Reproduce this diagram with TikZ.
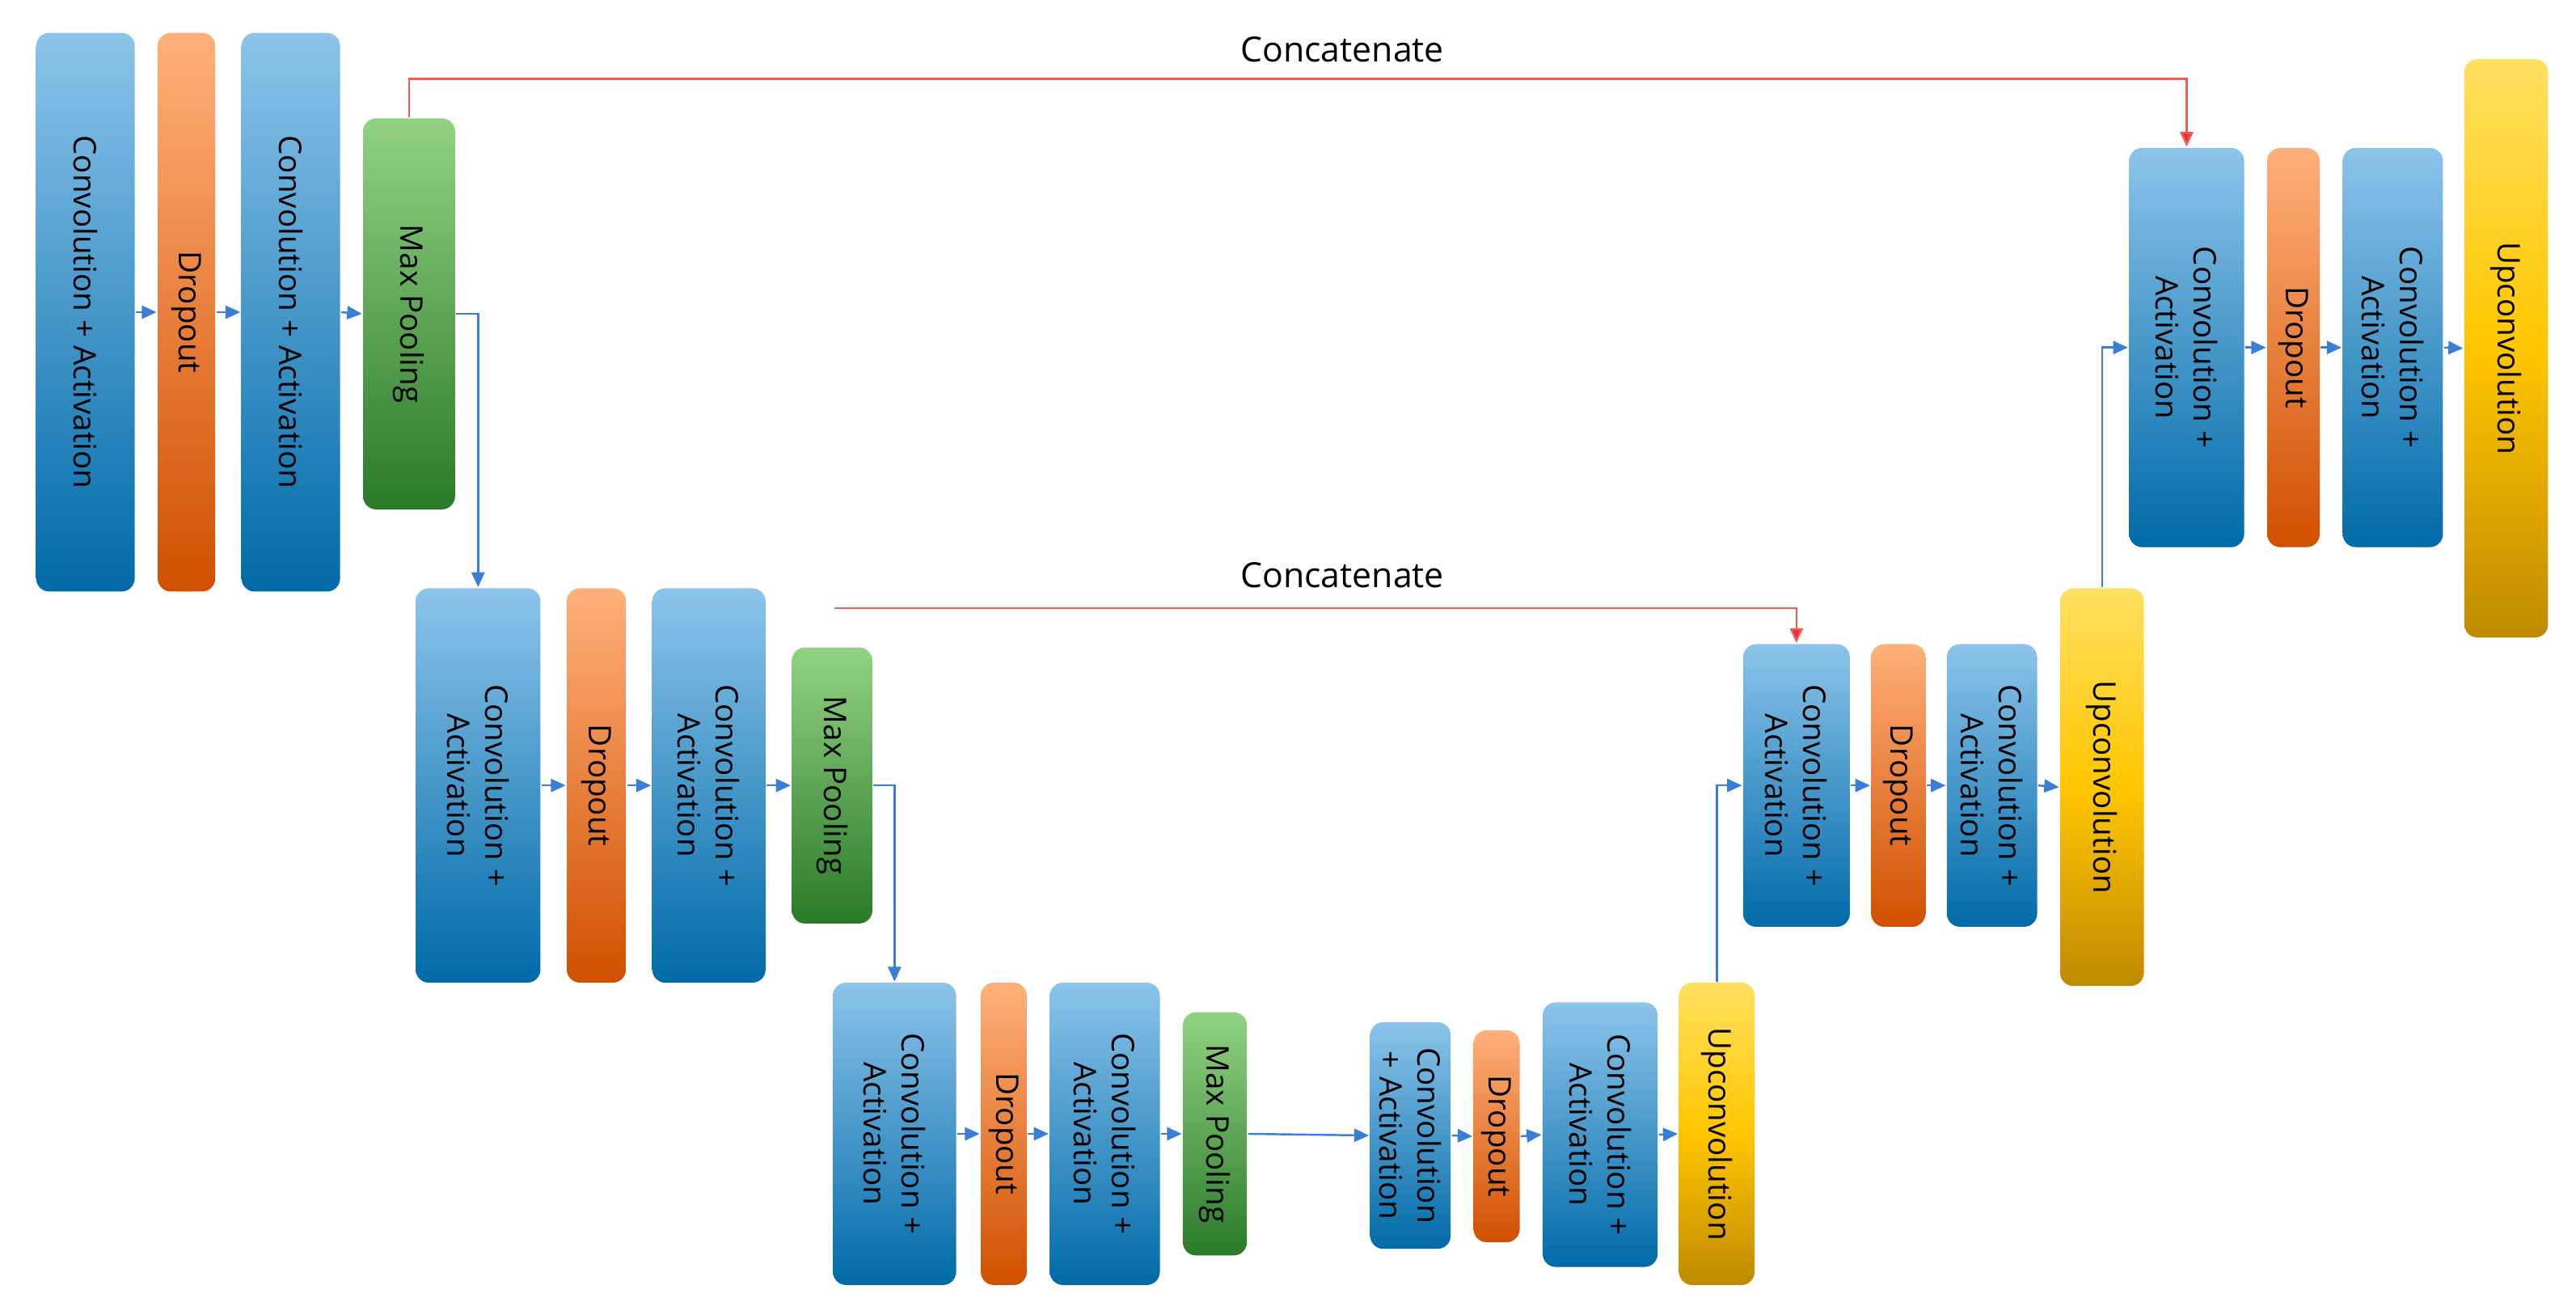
\documentclass[tikz,border=0pt]{standalone}
\usepackage{fontspec}
\setmainfont{Open Sans}
\usetikzlibrary{arrows.meta}
\definecolor{bT}{HTML}{8CC4EA}\definecolor{bB}{HTML}{006AA8}
\definecolor{oT}{HTML}{FFB07A}\definecolor{oB}{HTML}{D05000}
\definecolor{gT}{HTML}{92D282}\definecolor{gB}{HTML}{2A7A2A}
\definecolor{yT}{HTML}{FFE060}\definecolor{yM}{HTML}{FFC600}\definecolor{yB}{HTML}{C08A00}
\definecolor{arr}{HTML}{3A7FD5}\definecolor{red1}{HTML}{F03030}
\tikzset{
 blk/.style={draw=none,rounded corners=0.8mm,inner sep=0pt,align=center,rotate=-90,font=\fontsize{5.4}{6.6}\selectfont,text=black},
 blue/.style={blk,top color=bT,bottom color=bB},
 org/.style={blk,top color=oT,bottom color=oB},
 grn/.style={blk,top color=gT,bottom color=gB},
 yel/.style={blk,top color=yT,bottom color=yB,middle color=yM},
 a/.style={draw=arr,line width=0.12mm,-{Triangle[length=0.9mm,width=0.8mm]}},
 r/.style={draw=red1!80,line width=0.12mm,-{Triangle[length=0.9mm,width=0.8mm,fill=red1]}},
 lab/.style={font=\fontsize{6}{7}\selectfont}
}
\newcommand\blk[7]{\node[#6,minimum width={(#5-#3)*0.1mm},minimum height={(#4-#2)*0.1mm}] (#1) at ({(#2+#4)/2},{-(#3+#5)/2}) {#7};}
\begin{document}
\begin{tikzpicture}[x=0.1mm,y=0.1mm]
\useasboundingbox (0,0) rectangle (1568,-800);
\blk{c1}{22}{20}{82}{360}{blue}{Convolution + Activation}
\blk{d1}{96}{20}{131}{360}{org}{Dropout}
\blk{c2}{147}{20}{207}{360}{blue}{Convolution + Activation}
\blk{p1}{221}{72}{277}{310}{grn}{Max Pooling}
\blk{c3}{253}{358}{329}{598}{blue}{Convolution +\\Activation}
\blk{d2}{345}{358}{381}{598}{org}{Dropout}
\blk{c4}{397}{358}{466}{598}{blue}{Convolution +\\Activation}
\blk{p2}{482}{394}{531}{562}{grn}{Max Pooling}
\blk{c5}{507}{598}{582}{782}{blue}{Convolution +\\Activation}
\blk{d3}{597}{598}{625}{782}{org}{Dropout}
\blk{c6}{639}{598}{706}{782}{blue}{Convolution +\\Activation}
\blk{p3}{720}{616}{759}{764}{grn}{Max Pooling}
\blk{c7}{834}{622}{883}{760}{blue}{Convolution\\+ Activation}
\blk{d4}{897}{627}{925}{756}{org}{Dropout}
\blk{c8}{939}{610}{1009}{771}{blue}{Convolution +\\Activation}
\blk{u1}{1022}{598}{1068}{782}{yel}{Upconvolution}
\blk{c9}{1061}{392}{1126}{564}{blue}{Convolution +\\Activation}
\blk{d5}{1139}{392}{1172}{564}{org}{Dropout}
\blk{c10}{1185}{392}{1240}{564}{blue}{Convolution +\\Activation}
\blk{u2}{1254}{358}{1305}{600}{yel}{Upconvolution}
\blk{c11}{1296}{90}{1366}{333}{blue}{Convolution +\\Activation}
\blk{d6}{1380}{90}{1412}{333}{org}{Dropout}
\blk{c12}{1426}{90}{1487}{333}{blue}{Convolution +\\Activation}
\blk{u3}{1500}{36}{1551}{388}{yel}{Upconvolution}
% row arrows
\foreach \s/\t in {c1/d1,d1/c2,c2/p1,c3/d2,d2/c4,c4/p2,c5/d3,d3/c6,c6/p3,p3/c7,c7/d4,d4/c8,c8/u1,c9/d5,d5/c10,c10/u2,c11/d6,d6/c12,c12/u3}
  \draw[a] (\s.north) -- (\t.south);
\draw[a] (p1.north) -| (c3.west);
\draw[a] (p2.north) -| (c5.west);
\draw[a] (u1.west) |- (c9.south);
\draw[a] (u2.west) |- (c11.south);
% concatenations
\coordinate (k1) at (249,-48);
\draw[r] (p1.west) -- (k1) -| (c11.west);
\coordinate (k2) at (508,-370);
\draw[r] (k2) -| (c9.west);
\node[lab] (t1) at (817,-30) {Concatenate};
\node[lab] (t2) at (817,-350) {Concatenate};
\end{tikzpicture}
\end{document}
